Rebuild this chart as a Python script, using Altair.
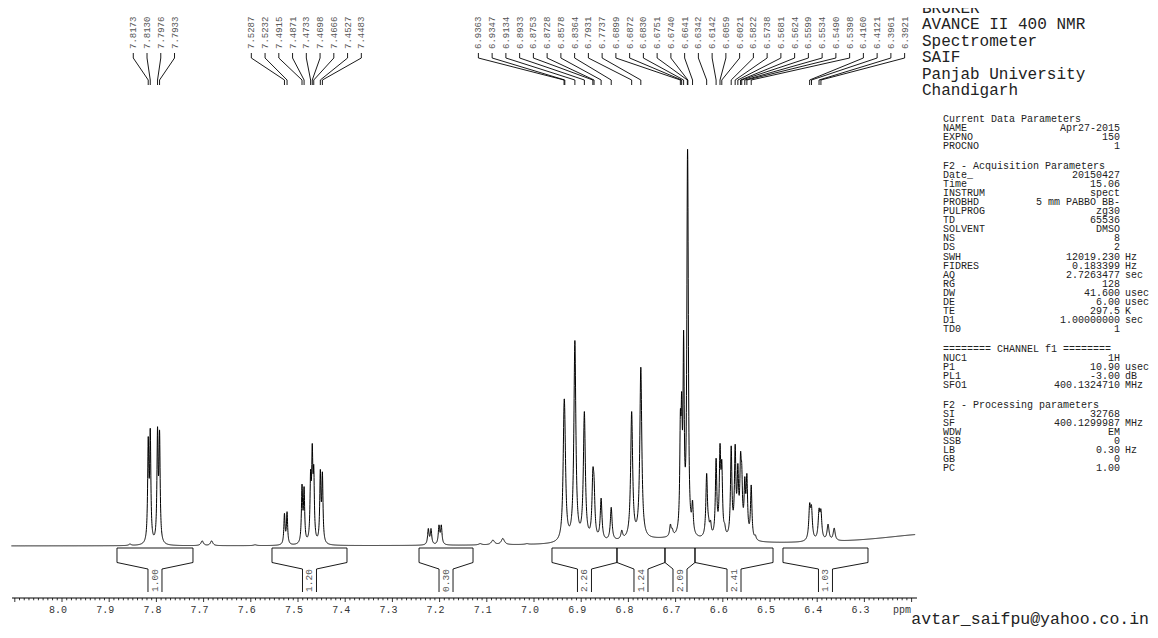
import numpy as np
import pandas as pd
import altair as alt

alt.data_transformers.disable_max_rows()

# ---------------- values ----------------
# peak positions printed above the spectrum (ppm), three label groups
peak_labels_1 = [7.8173, 7.8130, 7.7976, 7.7933]
peak_labels_2 = [7.5287, 7.5232, 7.4915, 7.4871, 7.4733, 7.4698, 7.4666, 7.4527, 7.4483]
peak_labels_3 = [6.9363, 6.9347, 6.9134, 6.8933, 6.8753, 6.8728, 6.8578, 6.8364,
                 6.7931, 6.7737, 6.6899, 6.6872, 6.6830, 6.6751, 6.6740, 6.6641,
                 6.6342, 6.6142, 6.6059, 6.6021, 6.5822, 6.5738, 6.5681, 6.5624,
                 6.5599, 6.5534, 6.5490, 6.5398, 6.4160, 6.4121, 6.3961, 6.3921]

# spectrum lines: position (ppm), apparent apex height (tallest = 100), half width (ppm)
line_ppm = [7.856, 7.8173, 7.8130, 7.7976, 7.7933, 7.703, 7.683,
            7.591, 7.5287, 7.5232, 7.4915, 7.4871, 7.4733, 7.4698, 7.4666, 7.4527, 7.4483,
            7.2239, 7.2182, 7.2013, 7.1964, 7.114, 7.087, 7.066, 7.015,
            6.9363, 6.9347, 6.9134, 6.8933, 6.8753, 6.8728, 6.8578, 6.8364, 6.814,
            6.7931, 6.7737, 6.711, 6.707,
            6.6899, 6.6872, 6.6830, 6.6751, 6.6740, 6.6641,
            6.6342, 6.630, 6.626, 6.6142, 6.6059, 6.6021, 6.596,
            6.5822, 6.5738, 6.5681, 6.5624, 6.5599, 6.5534, 6.5490, 6.5398, 6.531,
            6.4160, 6.4121, 6.3961, 6.3921, 6.377, 6.364]
line_height = [0.5, 27.4, 29.5, 29.9, 29.1, 1.3, 1.3,
               0.3, 8.2, 8.6, 15.5, 14.9, 19.2, 25.7, 20.3, 19.2, 18.6,
               4.4, 4.4, 5.3, 5.3, 0.6, 1.5, 1.9, 0.6,
               36.0, 33.0, 51.5, 33.7, 19.5, 17.4, 12.0, 9.7, 4.0,
               33.7, 44.8, 5.5, 4.5,
               34.1, 38.7, 54.1, 95.0, 92.0, 11.5,
               18.2, 7.3, 6.5, 22.0, 25.7, 21.6, 5.7,
               25.1, 25.5, 20.7, 23.6, 20.7, 17.4, 18.2, 15.3, 2.8,
               10.8, 10.3, 9.5, 9.3, 5.5, 4.5]
line_hw = [0.003, 0.0015, 0.0015, 0.0015, 0.0015, 0.003, 0.003,
           0.004, 0.0015, 0.0015, 0.0015, 0.0015, 0.0015, 0.0015, 0.0015, 0.0015, 0.0015,
           0.0018, 0.0018, 0.0018, 0.0018, 0.004, 0.004, 0.004, 0.004,
           0.0025, 0.0025, 0.0025, 0.0025, 0.0022, 0.0022, 0.0022, 0.0022, 0.0022,
           0.0025, 0.0025, 0.002, 0.002,
           0.0015, 0.0015, 0.0015, 0.0015, 0.0015, 0.0018,
           0.002, 0.002, 0.002, 0.0018, 0.0018, 0.0018, 0.002,
           0.0018, 0.0018, 0.0018, 0.0018, 0.0018, 0.0018, 0.0018, 0.0018, 0.002,
           0.0022, 0.0022, 0.0022, 0.0022, 0.0025, 0.0025]

# broad humps under the baseline
broad_ppm = [6.72, 6.15]
broad_height = [1.5, 3.0]
broad_hw = [0.12, 0.15]

# integral regions (ppm) and printed values
integral_from = [7.8835, 7.5551, 7.2436, 6.9619, 6.8242, 6.7225, 6.6589, 6.4725]
integral_to = [7.7225, 7.3962, 7.1292, 6.8242, 6.7225, 6.6589, 6.4936, 6.2924]
integral_text = ["1.00", "1.20", "0.30", "2.26", "1.24", "2.09", "2.41", "1.03"]

axis_major = [8.0, 7.9, 7.8, 7.7, 7.6, 7.5, 7.4, 7.3, 7.2, 7.1, 7.0,
              6.9, 6.8, 6.7, 6.6, 6.5, 6.4, 6.3]

header_lines = ["BRUKER", "AVANCE II 400 NMR", "Spectrometer", "SAIF",
                "Panjab University", "Chandigarh"]
param_sections = [
    ("Current Data Parameters", [("NAME", "Apr27-2015", ""), ("EXPNO", "150", ""),
                                 ("PROCNO", "1", "")]),
    ("F2 - Acquisition Parameters", [
        ("Date_", "20150427", ""), ("Time", "15.06", ""), ("INSTRUM", "spect", ""),
        ("PROBHD", "5 mm PABBO BB-", ""), ("PULPROG", "zg30", ""), ("TD", "65536", ""),
        ("SOLVENT", "DMSO", ""), ("NS", "8", ""), ("DS", "2", ""),
        ("SWH", "12019.230", "Hz"), ("FIDRES", "0.183399", "Hz"),
        ("AQ", "2.7263477", "sec"), ("RG", "128", ""), ("DW", "41.600", "usec"),
        ("DE", "6.00", "usec"), ("TE", "297.5", "K"), ("D1", "1.00000000", "sec"),
        ("TD0", "1", "")]),
    ("======== CHANNEL f1 ========", [
        ("NUC1", "1H", ""), ("P1", "10.90", "usec"), ("PL1", "-3.00", "dB"),
        ("SFO1", "400.1324710", "MHz")]),
    ("F2 - Processing parameters", [
        ("SI", "32768", ""), ("SF", "400.1299987", "MHz"), ("WDW", "EM", ""),
        ("SSB", "0", ""), ("LB", "0.30", "Hz"), ("GB", "0", ""), ("PC", "1.00", "")]),
]
footer_text = "avtar_saifpu@yahoo.co.in"

# ---------------- layout ----------------
W, H = 1142, 622
PXPPM = 472.0                       # pixels per ppm
X_HI = 8.0 + (62 - 8) / PXPPM       # ppm at left edge of chart
X_LO = X_HI - W / PXPPM
YU = 3.99                           # pixels per intensity unit
Y0 = 546 - 8                        # chart-y of zero intensity
Y_HI = Y0 / YU
Y_LO = (Y0 - H) / YU


def I(page_y):
    return (546 - page_y) / YU


xs = alt.Scale(domain=[X_LO, X_HI], reverse=True, nice=False, zero=False)
ys = alt.Scale(domain=[Y_LO, Y_HI], nice=False, zero=False)


def X(f):
    return alt.X(f, type="quantitative", scale=xs, axis=None)


def Y(f):
    return alt.Y(f, type="quantitative", scale=ys, axis=None)


# ---------------- spectrum ----------------
pos = np.array(line_ppm)
obs = np.array(line_height)
hw = np.array(line_hw)


def lor(x, x0, g):
    return 1.0 / (1.0 + ((x - x0) / g) ** 2)


def broad(x):
    return sum(h * lor(x, p, g) for p, h, g in zip(broad_ppm, broad_height, broad_hw))


M = lor(pos[:, None], pos[None, :], hw[None, :])
amp = obs.copy()
base_at = broad(pos)
for _ in range(800):
    amp = amp * obs / (M @ amp + base_at)

grid = np.unique(np.concatenate([np.arange(6.1925, 8.1075, 0.00025), pos]))
spec = (lor(grid[:, None], pos[None, :], hw[None, :]) @ amp) + broad(grid)
spec_df = pd.DataFrame({"ppm": np.round(grid, 5), "v": np.round(spec, 3)})

spectrum = alt.Chart(spec_df).mark_line(color="black", strokeWidth=1).encode(
    X("ppm"), Y("v"))

# ---------------- peak labels and leaders ----------------
SP = 13.75 / PXPPM
lab_rows, lead_rows = [], []
for g, grp in enumerate([peak_labels_1, peak_labels_2, peak_labels_3]):
    n = len(grp)
    c = float(np.mean(grp))
    for i, p in enumerate(grp):
        lx = c + ((n - 1) / 2 - i) * SP
        lab_rows.append({"x": lx, "y": I(49), "t": f"{p:.4f}"})
        key = f"{g}-{i}"
        for o, (xx, yy) in enumerate([(lx, I(53)), (lx, I(58)), (p, I(80)), (p, I(85))]):
            lead_rows.append({"x": xx, "y": yy, "k": key, "o": o})

peak_text = alt.Chart(pd.DataFrame(lab_rows)).mark_text(
    angle=270, align="left", baseline="middle", font="Liberation Mono",
    fontSize=9, color="#555555").encode(X("x"), Y("y"), text="t:N")
leaders = alt.Chart(pd.DataFrame(lead_rows)).mark_line(
    color="black", strokeWidth=0.9).encode(X("x"), Y("y"), detail="k:N", order="o:Q")

# ---------------- integrals ----------------
DW = 7 / PXPPM
int_rows, int_lab = [], []
for k, (a, b, t) in enumerate(zip(integral_from, integral_to, integral_text)):
    m = (a + b) / 2
    pts = [(m + DW, I(592)), (m + DW, I(569)), (a, I(562.5)), (a, I(548)),
           (b, I(548)), (b, I(562.5)), (m - DW, I(569)), (m - DW, I(592))]
    for o, (xx, yy) in enumerate(pts):
        int_rows.append({"x": xx, "y": yy, "k": k, "o": o})
    int_lab.append({"x": m, "y": I(580.5), "t": t})

integrals = alt.Chart(pd.DataFrame(int_rows)).mark_line(
    color="black", strokeWidth=0.9).encode(X("x"), Y("y"), detail="k:N", order="o:Q")
integral_labels = alt.Chart(pd.DataFrame(int_lab)).mark_text(
    angle=270, align="center", baseline="middle", font="Liberation Mono",
    fontSize=9.5, color="#555555").encode(X("x"), Y("y"), text="t:N")

# ---------------- ppm axis ----------------
axis_line = alt.Chart(pd.DataFrame({"a": [8.1059], "b": [6.1886], "y": [I(598)]})).mark_rule(
    color="black", strokeWidth=1).encode(X("a"), x2="b:Q", y=Y("y"))
ticks = []
for k in range(810, 619, -1):
    v = k / 100
    major = k % 10 == 0
    ticks.append({"t": v, "y1": I(598), "y2": I(602) if major else I(600.3)})
tick_marks = alt.Chart(pd.DataFrame(ticks)).mark_rule(color="black", strokeWidth=0.8).encode(
    X("t"), Y("y1"), y2="y2:Q")
tick_labels = alt.Chart(pd.DataFrame({"t": axis_major, "y": [I(610)] * len(axis_major),
                                      "s": [f"{v:.1f}" for v in axis_major]})).mark_text(
    font="Liberation Mono", fontSize=10, color="#333333", dx=-4, baseline="middle").encode(
    X("t"), Y("y"), text="s:N")
ppm_label = alt.Chart(pd.DataFrame({"t": [6.2203], "y": [I(610)], "s": ["ppm"]})).mark_text(
    font="Liberation Mono", fontSize=10, color="#333333", baseline="middle").encode(
    X("t"), Y("y"), text="s:N")

# ---------------- text block on the right ----------------
hdr = pd.DataFrame({"t": header_lines,
                    "px": [914] * len(header_lines),
                    "py": [24 - 16.5 - 8 + 16.5 * i for i in range(len(header_lines))]})
header = alt.Chart(hdr).mark_text(align="left", baseline="middle", font="Liberation Mono",
                                  fontSize=16, color="#222222").encode(
    x=alt.X("px:Q", scale=None), y=alt.Y("py:Q", scale=None), text="t:N")

titles, labels, values, units = [], [], [], []
for (title, rows), ty in zip(param_sections, [119, 166, 349, 405]):
    titles.append({"t": title, "px": 935, "py": ty - 8})
    for r, (nm, val, un) in enumerate(rows):
        yy = ty + (r + 1) * 9.05 - 8
        labels.append({"t": nm, "px": 935, "py": yy})
        values.append({"t": val, "px": 1112, "py": yy})
        if un:
            units.append({"t": un, "px": 1117, "py": yy})


def text_layer(rows, align, size=10):
    return alt.Chart(pd.DataFrame(rows)).mark_text(
        align=align, baseline="middle", font="Liberation Mono", fontSize=size,
        color="#222222").encode(x=alt.X("px:Q", scale=None), y=alt.Y("py:Q", scale=None),
                                text="t:N")


footer = text_layer([{"t": footer_text, "px": 1141, "py": 611}], "right", 16.5)

chart = alt.layer(
    spectrum, leaders, peak_text, integrals, integral_labels,
    axis_line, tick_marks, tick_labels, ppm_label,
    header, text_layer(titles, "left"), text_layer(labels, "left"),
    text_layer(values, "right"), text_layer(units, "left"), footer,
).resolve_scale(x="independent", y="independent").properties(
    width=W, height=H, padding=0, autosize="none", background="white"
).configure_view(stroke=None)

chart.save("out.html", embed_options={"renderer": "svg", "actions": False})
